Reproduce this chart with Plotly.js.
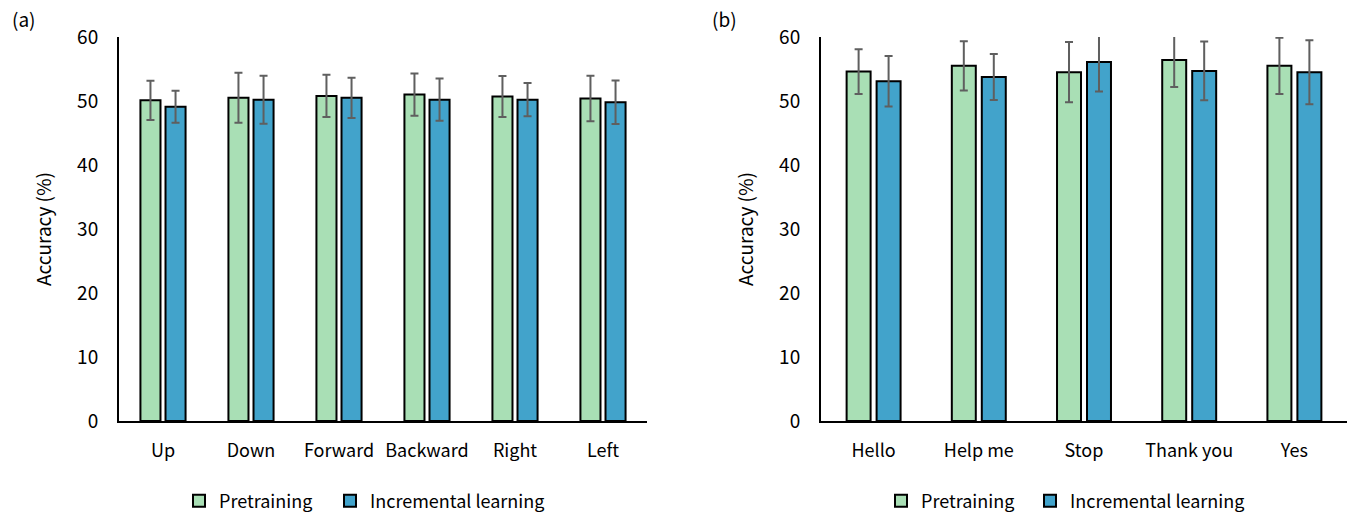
<!DOCTYPE html>
<html>
<head>
<meta charset="utf-8">
<script src="https://cdn.plot.ly/plotly-3.0.1.min.js"></script>
<style>html,body{margin:0;padding:0;background:#fff;}#chart{width:1347px;height:513px;}</style>
</head>
<body>
<div id="chart"></div>
<script>
const catsA = ['Up', 'Down', 'Forward', 'Backward', 'Right', 'Left'];
const preA = [50.1, 50.5, 50.8, 51.0, 50.7, 50.4];
const preAErr = [3.05, 3.9, 3.3, 3.3, 3.2, 3.55];
const incA = [49.1, 50.2, 50.5, 50.2, 50.2, 49.8];
const incAErr = [2.5, 3.75, 3.15, 3.3, 2.6, 3.4];

const catsB = ['Hello', 'Help me', 'Stop', 'Thank you', 'Yes'];
const preB = [54.6, 55.5, 54.5, 56.4, 55.5];
const preBErr = [3.5, 3.85, 4.7, 4.2, 4.4];
const incB = [53.1, 53.75, 56.1, 54.7, 54.5];
const incBErr = [3.95, 3.6, 4.6, 4.6, 5.0];

const seriesNames = ['Pretraining', 'Incremental learning'];
const yTicks = [0, 10, 20, 30, 40, 50, 60];

const FONT = '"Noto Sans CJK KR", "Noto Sans", sans-serif';
const GREEN = '#A9DFB5';
const BLUE = '#42A3CB';
const ERRC = '#5f5f5f';

function barTrace(name, x, y, err, color, xa, ya, leg) {
  return {
    type: 'bar', name: name, x: x, y: y,
    xaxis: xa, yaxis: ya, legend: leg,
    marker: {color: color, line: {color: '#000', width: 2}},
    error_y: {type: 'data', array: err, visible: true, color: ERRC, thickness: 2, width: 4},
    hoverinfo: 'none'
  };
}

const data = [
  barTrace(seriesNames[0], catsA, preA, preAErr, GREEN, 'x', 'y', 'legend'),
  barTrace(seriesNames[1], catsA, incA, incAErr, BLUE, 'x', 'y', 'legend2'),
  barTrace(seriesNames[0], catsB, preB, preBErr, GREEN, 'x2', 'y2', 'legend3'),
  barTrace(seriesNames[1], catsB, incB, incBErr, BLUE, 'x2', 'y2', 'legend4')
];

const W = 1347, H = 513;
const yDom = [(H - 421) / H, (H - 37) / H];

function xAxis(dom, anchor) {
  return {
    domain: dom, anchor: anchor, type: 'category',
    showline: true, linecolor: '#000', linewidth: 2,
    ticks: '', showgrid: false, zeroline: false,
    tickfont: {family: FONT, size: 18, color: '#000'},
    ticklabelstandoff: 12, fixedrange: true
  };
}
function yAxis(dom, anchor) {
  return {
    domain: dom, anchor: anchor, range: [0, 60],
    tickvals: yTicks, ticktext: yTicks.map(String),
    showline: true, linecolor: '#000', linewidth: 2,
    ticks: '', showgrid: false, zeroline: false,
    tickfont: {family: FONT, size: 19, color: '#000'},
    ticklabelstandoff: 15,
    title: {text: 'Accuracy (%)', font: {family: FONT, size: 19, color: '#000'}, standoff: 20},
    fixedrange: true
  };
}

function legendAt(px) {
  return {
    orientation: 'h', yanchor: 'middle', xanchor: 'left',
    xref: 'container', yref: 'container', x: px / W, y: (H - 501) / H,
    font: {family: FONT, size: 18, color: '#000'},
    bgcolor: 'rgba(0,0,0,0)'
  };
}

const layout = {
  width: W, height: H,
  margin: {l: 0, r: 0, t: 0, b: 0, autoexpand: false},
  paper_bgcolor: '#fff', plot_bgcolor: '#fff',
  barmode: 'group', bargap: 0.43, bargroupgap: 0.2,
  font: {family: FONT, color: '#000'},
  xaxis: xAxis([119 / W, 647 / W], 'y'),
  yaxis: yAxis(yDom, 'x'),
  xaxis2: xAxis([821 / W, 1], 'y2'),
  yaxis2: yAxis(yDom, 'x2'),
  showlegend: true,
  legend: legendAt(179),
  legend2: legendAt(330),
  legend3: legendAt(881),
  legend4: legendAt(1030),
  annotations: [
    {text: '(a)', xref: 'paper', yref: 'paper', x: 10 / W, y: (H - 18) / H, xanchor: 'left', yanchor: 'middle', showarrow: false, font: {family: FONT, size: 19, color: '#000'}},
    {text: '(b)', xref: 'paper', yref: 'paper', x: 710 / W, y: (H - 18) / H, xanchor: 'left', yanchor: 'middle', showarrow: false, font: {family: FONT, size: 19, color: '#000'}}
  ]
};

Plotly.newPlot('chart', data, layout, {displayModeBar: false, staticPlot: true});
</script>
</body>
</html>
